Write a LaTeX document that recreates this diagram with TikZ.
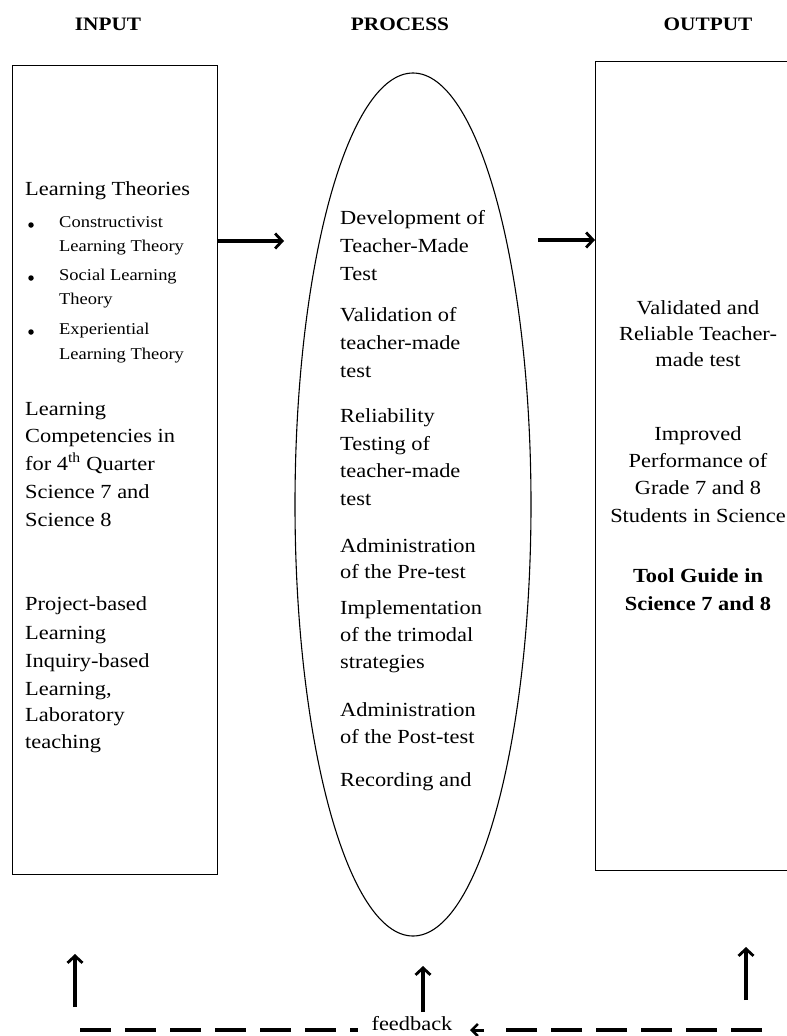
\documentclass[tikz,border=0pt]{standalone}
\usepackage{fontspec}
\setmainfont{Liberation Serif}[FakeStretch=1.12]
\usetikzlibrary{shapes.geometric,arrows.meta}
\begin{document}
\begin{tikzpicture}[x=1pt,y=-1pt,
  txt/.style={anchor=mid west, inner sep=0pt, font=\fontsize{20}{24}\selectfont},
  ctxt/.style={anchor=mid, inner sep=0pt, font=\fontsize{20}{24}\selectfont},
  small/.style={anchor=mid west, inner sep=0pt, font=\fontsize{16.5}{20}\selectfont},
  bul/.style={circle, fill, inner sep=0pt, minimum size=5.5pt},
  heading/.style={anchor=mid, inner sep=0pt, font=\fontsize{19}{22}\selectfont\bfseries},
  box/.style={draw, line width=1.4pt, inner sep=0pt, anchor=north west},
  flow/.style={line width=3.2pt, -{Straight Barb[length=7pt,width=15pt,line width=2.8pt]}},
  fbdash/.style={line width=3.4pt, dash pattern=on 31pt off 14pt},
]
\useasboundingbox (0,0) rectangle (787,1036);
\clip (0,0) rectangle (787,1036);

% headings
\node[heading] (hin) at (108,28) {INPUT};
\node[heading] (hproc) at (400,28) {PROCESS};
\node[heading] (hout) at (708,28) {OUTPUT};

% shapes
\node[box, minimum width=205pt, minimum height=809pt] (inbox) at (12,65) {};
\node[draw, ellipse, line width=1.1pt, inner sep=0pt, minimum width=236pt, minimum height=863pt] (proc) at (413,504.5) {};
\node[box, minimum width=215pt, minimum height=809pt] (outbox) at (595,61) {};

% input text
\node[txt] (lt) at (25,193) {Learning Theories};
\foreach \y [count=\i] in {225,278,332}
  \node[bul] (b\i) at (31,\y) {};
\foreach \t/\y [count=\i] in {Constructivist/225, Learning Theory/249, Social Learning/278, Theory/302, Experiential/332, Learning Theory/357}
  \node[small] (s\i) at (59,\y) {\t};
\foreach \t/\y [count=\i] in {Learning/413, Competencies in/440, {for 4\textsuperscript{th} Quarter}/468, Science 7 and/496, Science 8/524, Project-based/608, Learning/637, Inquiry-based/665, {Learning,}/693, Laboratory/719, teaching/746}
  \node[txt] (i\i) at (25,\y) {\t};

% process text
\foreach \t/\y [count=\i] in {Development of/222, Teacher-Made/250, Test/278, Validation of/319, teacher-made/347, test/375, Reliability/420, Testing of/448, teacher-made/475, test/503, Administration/550, of the Pre-test/576, Implementation/612, of the trimodal/639, strategies/666, Administration/714, of the Post-test/741, Recording and/784}
  \node[txt] (p\i) at (340,\y) {\t};

% output text
\foreach \t/\y [count=\i] in {Validated and/312, Reliable Teacher-/338, made test/364, Improved/438, Performance of/465, Grade 7 and 8/492, Students in Science/520}
  \node[ctxt] (o\i) at (698,\y) {\t};
\node[ctxt, font=\fontsize{20}{24}\selectfont\bfseries] (t1) at (698,580) {Tool Guide in};
\node[ctxt, font=\fontsize{20}{24}\selectfont\bfseries] (t2) at (698,608) {Science 7 and 8};

% flow arrows
\coordinate (a1s) at (inbox.east |- 0,241);
\coordinate (a1e) at (284,241);
\coordinate (a2s) at (538,240);
\coordinate (a2e) at (outbox.west |- 0,240);
\draw[flow] (a1s) -- (a1e);
\draw[flow] (a2s) -- (a2e);

% feedback
\node[anchor=mid, inner sep=0pt, font=\fontsize{20}{24}\selectfont] (fb) at (412,1028) {feedback};
\coordinate (fbl) at (80,1030);
\coordinate (fbr) at (762,1030);
\coordinate (fbtip) at (470,1030);
\draw[fbdash] (fbl) -- (358,1030);
\draw[fbdash] (fbr) -- (500,1030);
\draw[line width=3pt, -{Straight Barb[length=6pt,width=12pt,line width=2.6pt]}] (484,1030) -- (fbtip);

% up arrows
\coordinate (u1s) at (75,1007); \coordinate (u1e) at (75,954);
\coordinate (u2s) at (423,1012); \coordinate (u2e) at (423,966);
\coordinate (u3s) at (746,1000); \coordinate (u3e) at (746,947);
\draw[flow] (u1s) -- (u1e);
\draw[flow] (u2s) -- (u2e);
\draw[flow] (u3s) -- (u3e);
\end{tikzpicture}
\end{document}
